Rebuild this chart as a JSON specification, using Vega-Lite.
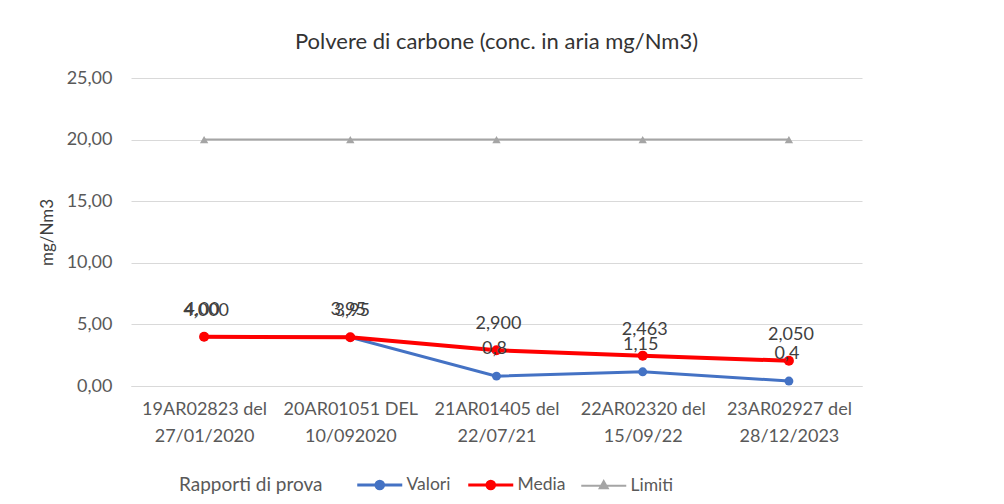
{
  "$schema": "https://vega.github.io/schema/vega-lite/v6.json",
  "autosize": {"type": "none"},
  "width": 731,
  "height": 308,
  "padding": {"left": 131, "top": 78, "right": 142, "bottom": 118},
  "background": "white",
  "config": {
    "font": "Lato",
    "view": {"stroke": null},
    "locale": {"number": {"decimal": ",", "thousands": ".", "grouping": [3], "currency": ["€", ""]}}
  },
  "title": {
    "text": "Polvere di carbone (conc. in aria mg/Nm3)",
    "fontSize": 22,
    "fontWeight": "normal",
    "color": "#333333",
    "font": "Lato",
    "offset": 15,
    "anchor": "middle"
  },
  "data": {
    "values": [
      {"rapporto": "19AR02823 del|27/01/2020", "serie": "Limiti", "valore": 20, "etichetta": ""},
      {"rapporto": "20AR01051 DEL|10/092020", "serie": "Limiti", "valore": 20, "etichetta": ""},
      {"rapporto": "21AR01405 del|22/07/21", "serie": "Limiti", "valore": 20, "etichetta": ""},
      {"rapporto": "22AR02320 del|15/09/22", "serie": "Limiti", "valore": 20, "etichetta": ""},
      {"rapporto": "23AR02927 del|28/12/2023", "serie": "Limiti", "valore": 20, "etichetta": ""},
      {"rapporto": "19AR02823 del|27/01/2020", "serie": "Valori", "valore": 4.0, "etichetta": "4,00"},
      {"rapporto": "20AR01051 DEL|10/092020", "serie": "Valori", "valore": 3.95, "etichetta": "3,95"},
      {"rapporto": "21AR01405 del|22/07/21", "serie": "Valori", "valore": 0.8, "etichetta": "0,8"},
      {"rapporto": "22AR02320 del|15/09/22", "serie": "Valori", "valore": 1.15, "etichetta": "1,15"},
      {"rapporto": "23AR02927 del|28/12/2023", "serie": "Valori", "valore": 0.4, "etichetta": "0,4"},
      {"rapporto": "19AR02823 del|27/01/2020", "serie": "Media", "valore": 4.0, "etichetta": "4,000"},
      {"rapporto": "20AR01051 DEL|10/092020", "serie": "Media", "valore": 3.95, "etichetta": "3,95"},
      {"rapporto": "21AR01405 del|22/07/21", "serie": "Media", "valore": 2.9, "etichetta": "2,900"},
      {"rapporto": "22AR02320 del|15/09/22", "serie": "Media", "valore": 2.463, "etichetta": "2,463"},
      {"rapporto": "23AR02927 del|28/12/2023", "serie": "Media", "valore": 2.05, "etichetta": "2,050"}
    ]
  },
  "encoding": {
    "x": {
      "field": "rapporto",
      "type": "nominal",
      "sort": null,
      "scale": {"type": "point", "padding": 0.5},
      "axis": {
        "title": null,
        "labelAngle": 0,
        "labelExpr": "split(datum.label, '|')",
        "labelFontSize": 18,
        "labelColor": "#595959",
        "labelLineHeight": 27,
        "labelPadding": 14,
        "labelBaseline": "top",
        "ticks": false,
        "domain": true,
        "domainColor": "#D9D9D9",
        "domainWidth": 1,
        "grid": false
      }
    },
    "y": {
      "field": "valore",
      "type": "quantitative",
      "scale": {"domain": [0, 25], "nice": false},
      "axis": {
        "title": "mg/Nm3",
        "titleFontSize": 17,
        "titleFontWeight": "normal",
        "titleColor": "#404040",
        "titlePadding": 10,
        "values": [0, 5, 10, 15, 20, 25],
        "format": ".2f",
        "labelFontSize": 18,
        "labelColor": "#595959",
        "labelPadding": 19,
        "ticks": false,
        "domain": false,
        "grid": true,
        "gridColor": "#D9D9D9",
        "gridWidth": 1
      }
    },
    "color": {
      "field": "serie",
      "type": "nominal",
      "scale": {"domain": ["Valori", "Media", "Limiti"], "range": ["#4472C4", "#FF0000", "#A5A5A5"]},
      "legend": {
        "title": "Rapporti di prova",
        "orient": "none",
        "legendX": 48,
        "legendY": 398,
        "direction": "horizontal",
        "titleOrient": "left",
        "titleFontSize": 19,
        "titleFontWeight": "normal",
        "titleColor": "#595959",
        "titlePadding": 48,
        "titleBaseline": "middle",
        "labelFontSize": 17.5,
        "labelColor": "#595959",
        "labelOffset": 18,
        "columnPadding": 11,
        "symbolSize": 2025,
        "symbolStrokeWidth": 3,
        "encode": {
          "symbols": {
            "update": {
              "shape": {"signal": "datum.value === 'Limiti' ? 'M-1,0L1,0M0,-0.2L0.18,0.12L-0.18,0.12Z' : 'M-1,0L1,0M-0.17,0A0.17,0.17 0 1,1 0.17,0A0.17,0.17 0 1,1 -0.17,0Z'"},
              "fill": {"signal": "datum.value === 'Limiti' ? '#A5A5A5' : (datum.value === 'Media' ? '#FF0000' : '#4472C4')"},
              "stroke": {"signal": "datum.value === 'Limiti' ? '#A5A5A5' : (datum.value === 'Media' ? '#FF0000' : '#4472C4')"},
              "strokeWidth": {"signal": "datum.value === 'Limiti' ? 2 : 3"}
            }
          }
        }
      }
    }
  },
  "layer": [
    {
      "transform": [{"filter": "datum.serie === 'Limiti'"}],
      "mark": {"type": "line", "strokeWidth": 2, "point": {"filled": true, "shape": "triangle-up", "size": 70}}
    },
    {
      "transform": [{"filter": "datum.serie === 'Valori'"}],
      "mark": {"type": "line", "strokeWidth": 3, "point": {"filled": true, "shape": "circle", "size": 80}}
    },
    {
      "transform": [{"filter": "datum.serie === 'Media'"}],
      "mark": {"type": "line", "strokeWidth": 4, "point": {"filled": true, "shape": "circle", "size": 100}}
    },
    {
      "transform": [{"filter": "datum.serie === 'Valori'"}],
      "mark": {"type": "text", "fontSize": 18, "dy": -27, "dx": -2, "baseline": "middle"},
      "encoding": {"text": {"field": "etichetta"}, "color": {"value": "#404040"}}
    },
    {
      "transform": [{"filter": "datum.serie === 'Media'"}],
      "mark": {"type": "text", "fontSize": 18, "dy": -26, "dx": 2, "baseline": "middle"},
      "encoding": {"text": {"field": "etichetta"}, "color": {"value": "#404040"}}
    }
  ]
}
